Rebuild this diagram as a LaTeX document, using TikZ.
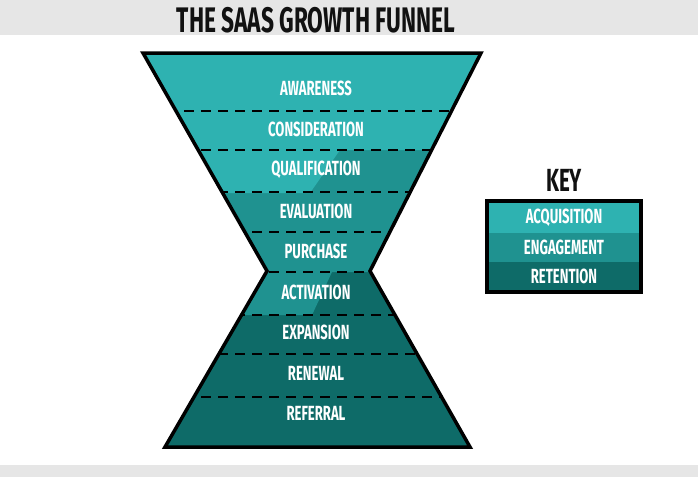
\documentclass[tikz,border=0pt]{standalone}
\usepackage{fontspec}
\newfontfamily\gothic[FakeStretch=0.64]{Fira Sans}
\definecolor{acqcol}{HTML}{2EB2B1}
\definecolor{engcol}{HTML}{1F9290}
\definecolor{retcol}{HTML}{0E6B68}
\definecolor{bandgray}{HTML}{E6E6E6}
\definecolor{inkblack}{HTML}{111111}
\tikzset{
  headline/.style={text=inkblack, inner sep=0pt, font=\gothic\bfseries\fontsize{35.5}{35.5}\selectfont},
  keyhead/.style={text=inkblack, inner sep=0pt, font=\gothic\bfseries\fontsize{32}{32}\selectfont},
  stage/.style={text=white, inner sep=0pt, font=\gothic\bfseries\fontsize{20.5}{20.5}\selectfont},
  dashline/.style={line width=2pt, dash pattern=on 10pt off 7pt, line cap=butt},
  outline/.style={line width=3.5pt, line join=miter, draw=black}
}
\begin{document}
\begin{tikzpicture}[x=1pt, y=-1pt, line join=round, line cap=round]
	\useasboundingbox (0,0) rectangle (698,477);
	\fill[bandgray] (0,0) rectangle (698,35);
	\fill[bandgray] (0,465) rectangle (698,477);
	\node[headline] (title) at (316,20) {THE SAAS GROWTH FUNNEL};
	% corners of the hourglass
	\coordinate (tl) at (143,53);
	\coordinate (tr) at (481,53);
	\coordinate (wr) at (370,271);
	\coordinate (br) at (470,447);
	\coordinate (bl) at (165,447);
	\coordinate (wl) at (267,271);
	\begin{scope}
		\clip (tl)--(tr)--(wr)--(br)--(bl)--(wl)--cycle;
		\fill[retcol] (130,40) rectangle (490,460);
		\fill[engcol] (130,40)--(490,40)--(490,272)--(332,272)--(312,315)--(130,315)--cycle;
		\fill[acqcol] (130,40)--(490,40)--(490,150)--(340,150)--(310,193)--(130,193)--cycle;
		\foreach \y in {111,150,192,232,272,315,354,397}
			\draw[dashline] (150,\y)--(480,\y);
	\end{scope}
	\draw[outline] (tl)--(tr)--(wr)--(br)--(bl)--(wl)--cycle;
	\foreach \t/\y in {AWARENESS/88,CONSIDERATION/129,QUALIFICATION/170,EVALUATION/211,PURCHASE/251,ACTIVATION/292,EXPANSION/332,RENEWAL/373,REFERRAL/413}
		\node[stage] (\t) at (316,\y) {\t};
	% key
	\node[keyhead] (key) at (564,180) {KEY};
	\fill[acqcol] (487,201) rectangle (641,233);
	\fill[engcol] (487,233) rectangle (641,262);
	\fill[retcol] (487,262) rectangle (641,292);
	\draw[outline] (487,201) rectangle (641,292);
	\node[stage] (acq) at (564,218) {ACQUISITION};
	\node[stage] (eng) at (564,247) {ENGAGEMENT};
	\node[stage] (ret) at (564,276) {RETENTION};
\end{tikzpicture}
\end{document}
